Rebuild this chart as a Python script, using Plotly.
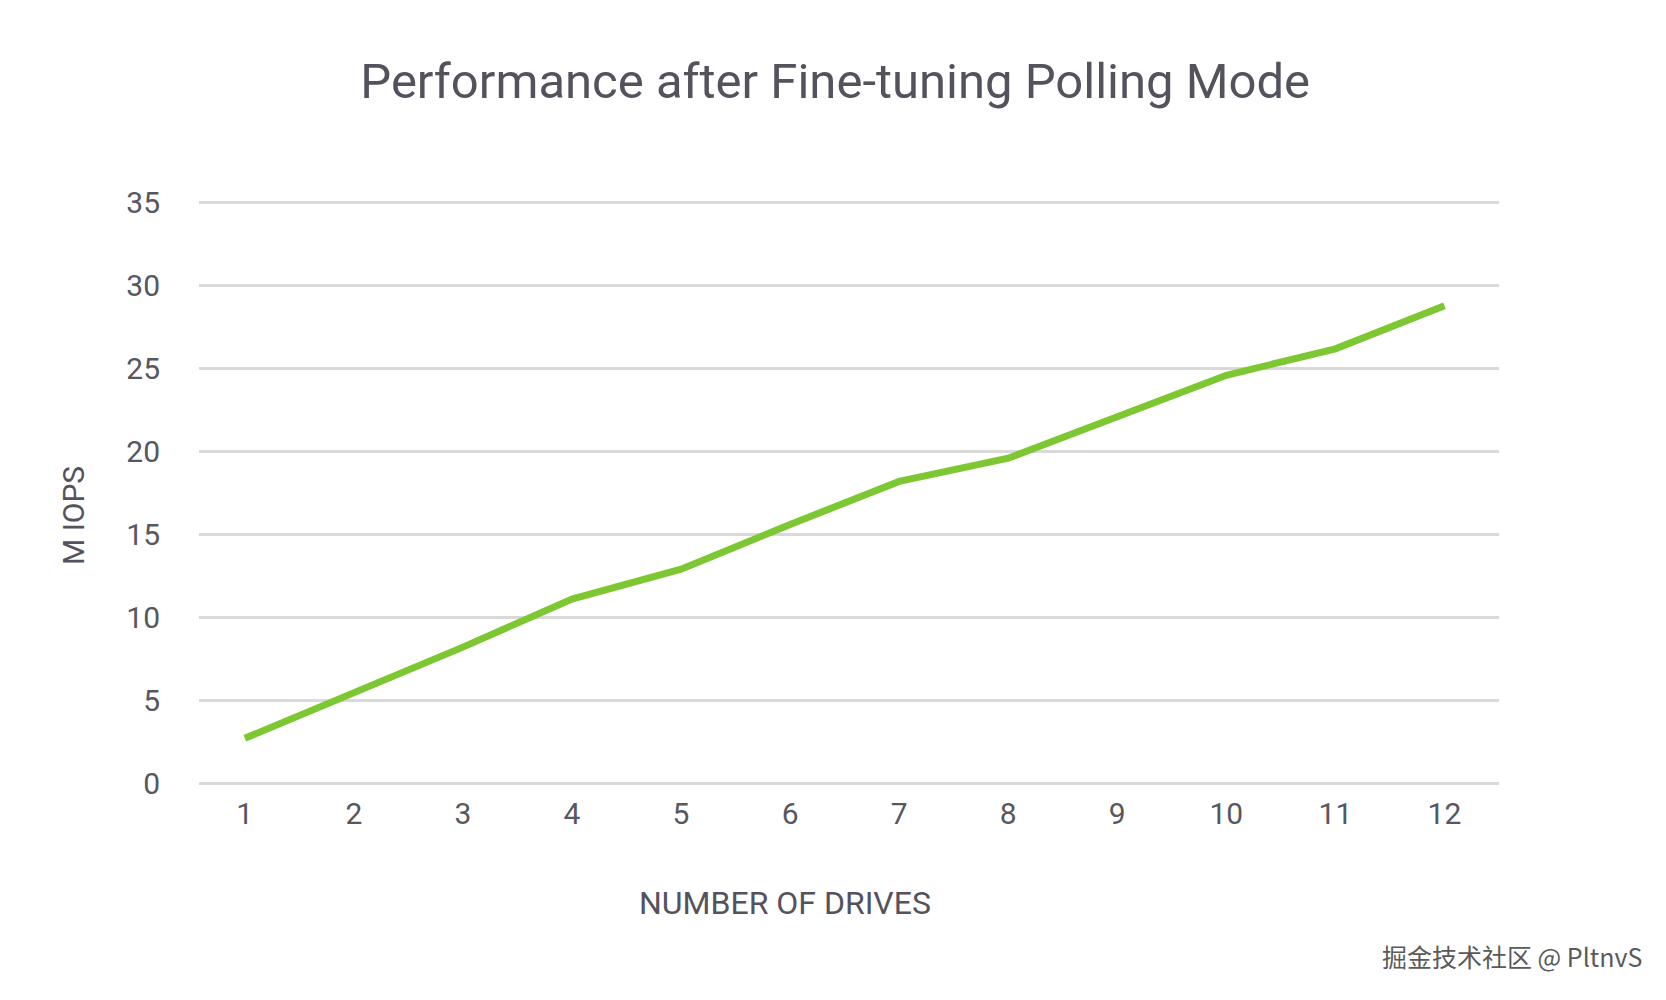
import plotly.graph_objects as go

drives = ["1", "2", "3", "4", "5", "6", "7", "8", "9", "10", "11", "12"]
miops = [2.7, 5.4, 8.2, 11.1, 12.9, 15.6, 18.2, 19.6, 22.1, 24.6, 26.2, 28.8]
y_ticks = [0, 5, 10, 15, 20, 25, 30, 35]

title_text = "Performance after Fine-tuning Polling Mode"
x_title = "NUMBER OF DRIVES"
y_title = "M IOPS"
watermark = "掘金技术社区 @ PltnvS"

FONT = "Roboto, 'Noto Sans', sans-serif"
TXT = "#55525e"
TICK = "#57575f"

L, R, T, B = 191, 175, 190, 220
PW = 1666 - L - R
PH = 1000 - T - B

fig = go.Figure()
fig.add_trace(go.Scatter(
    x=drives, y=miops, mode="lines",
    line=dict(color="#7dc832", width=7),
    hoverinfo="x+y", showlegend=False,
))

fig.update_layout(
    width=1666, height=1000,
    paper_bgcolor="white", plot_bgcolor="white",
    margin=dict(l=L, r=R, t=T, b=B),
    font=dict(family=FONT, color=TXT),
    title=dict(text=title_text, x=0.4965, xanchor="center", y=0.9275, yanchor="middle",
               font=dict(family=FONT, size=49, color=TXT, weight=400)),
    xaxis=dict(type="category", range=[-0.42, 11.5], showgrid=False, zeroline=False,
               showline=False, ticks="", tickfont=dict(size=30, color=TICK),
               ticklabelstandoff=5),
    yaxis=dict(range=[-0.3, 35.3], tickvals=y_ticks, showgrid=True,
               gridcolor="#d9d9d9", gridwidth=3, zeroline=False, showline=False,
               ticks="", tickfont=dict(size=30, color=TICK),
               ticklabelstandoff=38),
    annotations=[
        dict(text=x_title, xref="paper", yref="paper", x=(777 - L) / PW, y=-(895 - (T + PH)) / PH,
             xanchor="center", yanchor="middle", showarrow=False,
             font=dict(family=FONT, size=32, color=TXT)),
        dict(text=y_title, xref="paper", yref="paper", x=(65.6 - L) / PW, y=((T + PH) - 507.4) / PH,
             xanchor="center", yanchor="middle", showarrow=False, textangle=-90,
             font=dict(family=FONT, size=30, color=TXT)),
        dict(text=watermark, xref="paper", yref="paper", x=(1636 - L) / PW, y=-(948 - (T + PH)) / PH,
             xanchor="right", yanchor="middle", showarrow=False,
             font=dict(family="'Noto Sans CJK SC', sans-serif", size=25, color="#5a5a5a")),
    ],
)

fig.write_html("out.html")
